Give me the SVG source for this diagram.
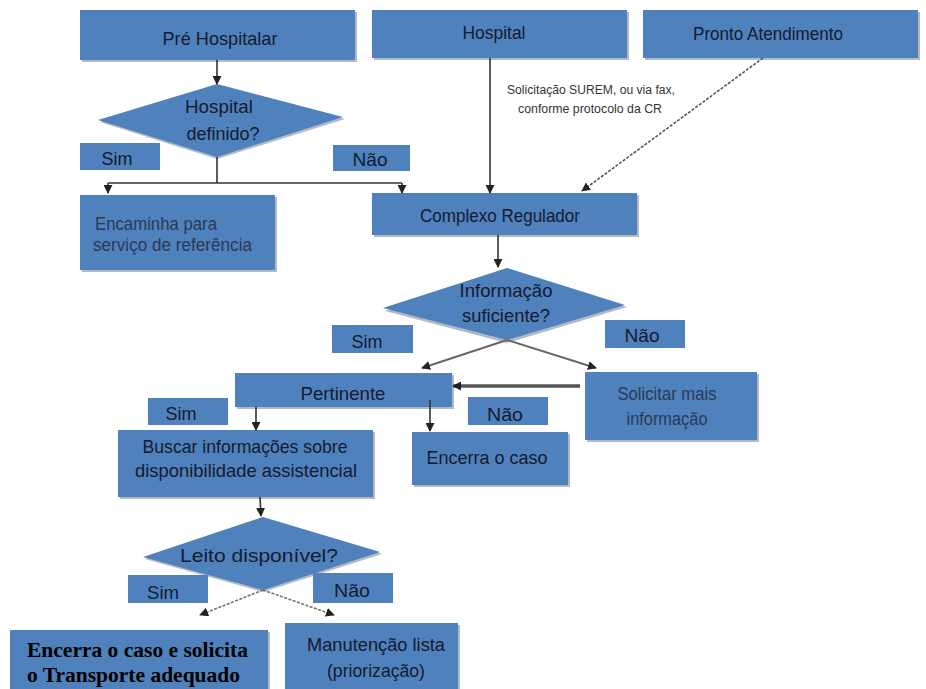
<svg xmlns="http://www.w3.org/2000/svg" width="926" height="689" viewBox="0 0 926 689">
<defs>
<style>
.box{fill:#4F81BD}
.sh{fill:#6f7f94;opacity:0.55}
.t{font-family:"Liberation Sans",Arial,sans-serif;font-size:19px;fill:#151b2e;text-anchor:middle}
.tl{font-family:"Liberation Sans",Arial,sans-serif;font-size:17.5px;fill:#2c3a55;text-anchor:start}
.tc{font-family:"Liberation Sans",Arial,sans-serif;font-size:17.5px;fill:#2c3a55;text-anchor:middle}
.ts{font-family:"Liberation Sans",Arial,sans-serif;font-size:12.5px;fill:#333;text-anchor:middle;stroke:#fff;stroke-width:2.5px;paint-order:stroke}
.tb{font-family:"Liberation Serif","Times New Roman",serif;font-size:20.5px;font-weight:bold;fill:#000}
.ln{fill:none;stroke:#333;stroke-width:1.6}
.lg{fill:none;stroke:#666;stroke-width:2}
.ld{fill:none;stroke:#555;stroke-width:1.6;stroke-dasharray:3 1.5}
.lb{fill:none;stroke:#7a6e62;stroke-width:1.6;stroke-dasharray:3 1.5}
</style>
<marker id="ah" viewBox="0 0 10 10" refX="9" refY="5" markerWidth="9" markerHeight="9" markerUnits="userSpaceOnUse" orient="auto">
<path d="M0,0 L10,5 L0,10 z" fill="#222"/>
</marker>
</defs>
<rect width="926" height="689" fill="#fff"/>

<g id="pre-hospitalar">
<rect class="sh" x="82" y="12" width="275" height="50"/>
<rect class="box" x="80" y="10" width="275" height="50"/>
<text class="t" x="220" y="45" textLength="115" lengthAdjust="spacingAndGlyphs">Pré Hospitalar</text>
</g>
<g id="hospital">
<rect class="sh" x="374" y="12" width="255" height="48"/>
<rect class="box" x="372" y="10" width="255" height="48"/>
<text class="t" x="494" y="39" textLength="63" lengthAdjust="spacingAndGlyphs">Hospital</text>
</g>
<g id="pronto-atendimento">
<rect class="sh" x="645" y="12" width="275" height="48"/>
<rect class="box" x="643" y="10" width="275" height="48"/>
<text class="t" x="768" y="40" textLength="150" lengthAdjust="spacingAndGlyphs">Pronto Atendimento</text>
</g>

<g id="hospital-definido">
<polygon class="sh" points="217,87 345,119 217,159 100,122"/>
<polygon class="box" points="217,84 343,117 217,157 98,120"/>
<text class="t" x="219" y="113" textLength="68" lengthAdjust="spacingAndGlyphs">Hospital</text>
<text class="t" x="223" y="140" textLength="73" lengthAdjust="spacingAndGlyphs">definido?</text>
</g>
<g id="lbl-sim-1">
<rect class="box" x="80" y="143" width="80" height="27"/>
<text class="t" x="117" y="165" textLength="31" lengthAdjust="spacingAndGlyphs">Sim</text>
</g>
<g id="lbl-nao-1">
<rect class="box" x="333" y="145" width="77" height="26"/>
<text class="t" x="370" y="166" textLength="35" lengthAdjust="spacingAndGlyphs">Não</text>
</g>

<g id="encaminha">
<rect class="sh" x="82" y="197" width="195" height="75"/>
<rect class="box" x="80" y="195" width="195" height="75"/>
<text class="tl" x="95" y="230" textLength="122" lengthAdjust="spacingAndGlyphs">Encaminha  para</text>
<text class="tl" x="93" y="251" textLength="159" lengthAdjust="spacingAndGlyphs">serviço de referência</text>
</g>

<g id="complexo-regulador">
<rect class="sh" x="374" y="195" width="265" height="42"/>
<rect class="box" x="372" y="193" width="265" height="42"/>
<text class="t" x="500" y="222" textLength="160" lengthAdjust="spacingAndGlyphs">Complexo Regulador</text>
</g>

<g id="informacao-suficiente">
<polygon class="sh" points="507,271 627,307 507,343 385,311"/>
<polygon class="box" points="507,268 625,305 507,340 383,308"/>
<text class="t" x="506" y="297" textLength="93" lengthAdjust="spacingAndGlyphs">Informação</text>
<text class="t" x="506" y="322" textLength="88" lengthAdjust="spacingAndGlyphs">suficiente?</text>
</g>
<g id="lbl-sim-2">
<rect class="box" x="332" y="325" width="81" height="28"/>
<text class="t" x="367" y="348" textLength="31" lengthAdjust="spacingAndGlyphs">Sim</text>
</g>
<g id="lbl-nao-2">
<rect class="box" x="605" y="320" width="80" height="28"/>
<text class="t" x="642" y="342" textLength="35" lengthAdjust="spacingAndGlyphs">Não</text>
</g>

<g id="pertinente">
<rect class="sh" x="237" y="375" width="217" height="34"/>
<rect class="box" x="235" y="373" width="217" height="34"/>
<text class="t" x="343" y="400" textLength="85" lengthAdjust="spacingAndGlyphs">Pertinente</text>
</g>
<g id="solicitar">
<rect class="sh" x="587" y="374" width="172" height="68"/>
<rect class="box" x="585" y="372" width="172" height="68"/>
<text class="tc" x="667" y="400" textLength="99" lengthAdjust="spacingAndGlyphs">Solicitar mais</text>
<text class="tc" x="667" y="425" textLength="81" lengthAdjust="spacingAndGlyphs">informação</text>
</g>
<g id="lbl-sim-3">
<rect class="box" x="148" y="398" width="80" height="27"/>
<text class="t" x="181" y="420" textLength="31" lengthAdjust="spacingAndGlyphs">Sim</text>
</g>
<g id="lbl-nao-3">
<rect class="box" x="468" y="397" width="80" height="28"/>
<text class="t" x="505" y="421" textLength="36" lengthAdjust="spacingAndGlyphs">Não</text>
</g>

<g id="buscar">
<rect class="sh" x="120" y="432" width="255" height="67"/>
<rect class="box" x="118" y="430" width="255" height="67"/>
<text class="t" x="245" y="453" textLength="205" lengthAdjust="spacingAndGlyphs">Buscar informações sobre</text>
<text class="t" x="246" y="477" textLength="222" lengthAdjust="spacingAndGlyphs">disponibilidade assistencial</text>
</g>
<g id="encerra-caso">
<rect class="sh" x="414" y="434" width="156" height="53"/>
<rect class="box" x="412" y="432" width="156" height="53"/>
<text class="t" x="487" y="464" textLength="121" lengthAdjust="spacingAndGlyphs">Encerra o caso</text>
</g>

<g id="leito-disponivel">
<polygon class="sh" points="263,520 382,554 263,592 145,559"/>
<polygon class="box" points="263,517 380,552 263,590 143,557"/>
<text class="t" x="259" y="562" textLength="158" lengthAdjust="spacingAndGlyphs">Leito disponível?</text>
</g>
<g id="lbl-sim-4">
<rect class="box" x="128" y="575" width="80" height="28"/>
<text class="t" x="163" y="599" textLength="32" lengthAdjust="spacingAndGlyphs">Sim</text>
</g>
<g id="lbl-nao-4">
<rect class="box" x="313" y="573" width="80" height="30"/>
<text class="t" x="352" y="597" textLength="36" lengthAdjust="spacingAndGlyphs">Não</text>
</g>

<g id="encerra-transporte">
<rect class="sh" x="12" y="632" width="258" height="60"/>
<rect class="box" x="10" y="630" width="258" height="60"/>
<text class="tb" x="27" y="657" textLength="221" lengthAdjust="spacingAndGlyphs">Encerra o caso e solicita</text>
<text class="tb" x="27" y="682" textLength="213" lengthAdjust="spacingAndGlyphs">o Transporte adequado</text>
</g>
<g id="manutencao">
<rect class="sh" x="287" y="625" width="173" height="66"/>
<rect class="box" x="285" y="623" width="173" height="66"/>
<text class="t" x="376" y="651" textLength="138" lengthAdjust="spacingAndGlyphs">Manutenção lista</text>
<text class="t" x="376" y="677" textLength="98" lengthAdjust="spacingAndGlyphs">(priorização)</text>
</g>

<g id="connectors">
<line class="ln" x1="217" y1="60" x2="217" y2="84" marker-end="url(#ah)"/>
<polyline class="ln" points="217,157 217,183"/>
<polyline class="ln" points="108,183 402,183"/>
<line class="ln" x1="108" y1="183" x2="108" y2="193" marker-end="url(#ah)"/>
<line class="ln" x1="402" y1="183" x2="402" y2="193" marker-end="url(#ah)"/>
<line class="ln" x1="490" y1="58" x2="490" y2="193" marker-end="url(#ah)"/>
<line class="ld" x1="763" y1="58" x2="582" y2="191" marker-end="url(#ah)"/>
<text class="ts" x="591" y="94" textLength="168" lengthAdjust="spacingAndGlyphs">Solicitação SUREM, ou via fax,</text>
<text class="ts" x="590" y="113" textLength="144" lengthAdjust="spacingAndGlyphs">conforme protocolo da CR</text>
<line class="ln" x1="498" y1="235" x2="498" y2="267" marker-end="url(#ah)"/>
<line class="lg" x1="507" y1="340" x2="422" y2="368" marker-end="url(#ah)"/>
<line class="lg" x1="507" y1="340" x2="596" y2="368" marker-end="url(#ah)"/>
<line x1="580" y1="386" x2="453" y2="386" stroke="#555" stroke-width="3.5" marker-end="url(#ah)"/>
<line class="ln" x1="256" y1="407" x2="256" y2="430" marker-end="url(#ah)"/>
<line class="ln" x1="430" y1="400" x2="430" y2="431" marker-end="url(#ah)"/>
<line class="ln" x1="260" y1="497" x2="261" y2="516" marker-end="url(#ah)"/>
<line class="lb" x1="263" y1="590" x2="200" y2="615" marker-end="url(#ah)"/>
<line class="lb" x1="263" y1="590" x2="334" y2="615" marker-end="url(#ah)"/>
</g>
</svg>
